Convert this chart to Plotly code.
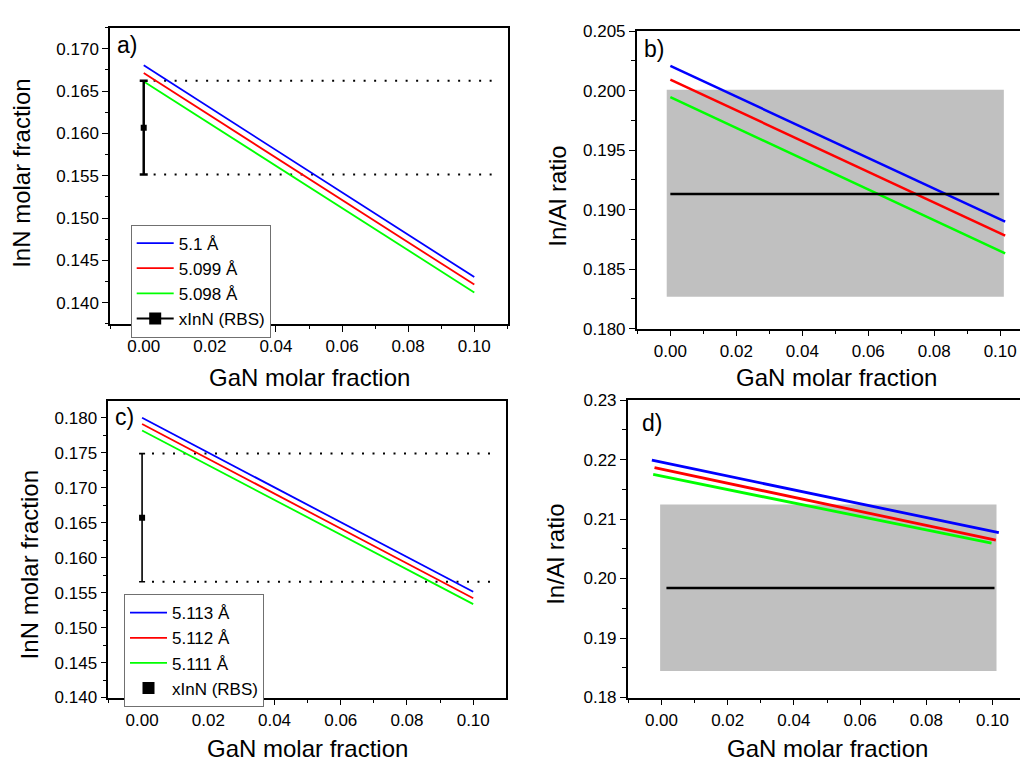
import plotly.graph_objects as go

W, H = 1020, 767
FONT = "Liberation Sans, Arial, sans-serif"

# ---------------- data ----------------
# a) InN molar fraction vs GaN molar fraction
a_x = [0.0, 0.1]
a_51 = [0.16804, 0.14304]
a_5099 = [0.16712, 0.14215]
a_5098 = [0.16612, 0.14123]
a_rbs_x = [0.0]
a_rbs = [0.16068]
a_rbs_err = [0.00554]
a_limit_x = [0.003, 0.107]

# b) In/Al ratio vs GaN molar fraction
b_x = [0.0, 0.1015]
b_51 = [0.20208, 0.18899]
b_5099 = [0.20093, 0.18782]
b_5098 = [0.19945, 0.18632]
b_ratio_x = [0.0, 0.0997]
b_ratio = 0.19138
b_ratio_line = 0.19131
b_ratio_err = 0.0087
b_band_x = [-0.0011, 0.1011]

# c) InN molar fraction vs GaN molar fraction
c_x = [0.0, 0.1]
c_5113 = [0.18000, 0.15512]
c_5112 = [0.17912, 0.15419]
c_5111 = [0.17819, 0.15335]
c_rbs_x = [0.0]
c_rbs = [0.16572]
c_rbs_err = [0.00916]
c_limit_x = [0.003, 0.1067]

# d) In/Al ratio vs GaN molar fraction
d_x_5113 = [-0.0029, 0.1019]
d_x_5112 = [-0.0021, 0.1010]
d_x_5111 = [-0.0025, 0.0997]
d_5113 = [0.21989, 0.20770]
d_5112 = [0.21863, 0.20645]
d_5111 = [0.21749, 0.20596]
d_ratio_x = [0.0015, 0.1006]
d_ratio = 0.19845
d_ratio_line = 0.19841
d_ratio_err = 0.0140
d_band_x = [-0.0004, 0.1012]

BLUE, RED, GREEN, GRAY = "#0000ff", "#ff0000", "#00ff00", "#c0c0c0"


def px_x(p):
    return p / W


def px_y(p):
    return 1 - p / H


fig = go.Figure()


def add_line(x, y, color, name, xa, ya, legend=None, width=1.8):
    fig.add_trace(go.Scatter(
        x=x, y=y, mode="lines", name=name,
        line=dict(color=color, width=width),
        xaxis=xa, yaxis=ya,
        showlegend=legend is not None, legend=legend or "legend"))


def add_band(xs, center, err, xa, ya):
    lo, hi = center - err, center + err
    fig.add_trace(go.Scatter(
        x=[xs[0], xs[1], xs[1], xs[0]], y=[lo, lo, hi, hi],
        fill="toself", fillcolor=GRAY, mode="lines",
        line=dict(width=0, color=GRAY),
        xaxis=xa, yaxis=ya, showlegend=False, hoverinfo="skip"))


def add_limits(xs, value, err, xa, ya):
    for y in (value + err, value - err):
        fig.add_trace(go.Scatter(
            x=xs, y=[y, y], mode="lines",
            line=dict(color="black", width=2, dash="2px,8.5px"),
            xaxis=xa, yaxis=ya, showlegend=False, hoverinfo="skip"))


# ---- panel a ----
add_limits(a_limit_x, a_rbs[0], a_rbs_err[0], "x", "y")
add_line(a_x, a_51, BLUE, "5.1 Å", "x", "y", "legend")
add_line(a_x, a_5099, RED, "5.099 Å", "x", "y", "legend")
add_line(a_x, a_5098, GREEN, "5.098 Å", "x", "y", "legend")
fig.add_trace(go.Scatter(
    x=a_rbs_x, y=a_rbs, mode="markers",
    marker=dict(symbol="square", size=6, color="black"),
    error_y=dict(type="data", array=a_rbs_err, color="black", thickness=2.5, width=4),
    xaxis="x", yaxis="y", showlegend=False))
fig.add_trace(go.Scatter(
    x=[None], y=[None], mode="lines+markers", name="xInN (RBS)",
    marker=dict(symbol="square", size=12, color="black"),
    line=dict(color="black", width=2),
    xaxis="x", yaxis="y", legend="legend"))

# ---- panel b ----
add_band(b_band_x, b_ratio, b_ratio_err, "x2", "y2")
add_line(b_x, b_51, BLUE, None, "x2", "y2", width=2.5)
add_line(b_x, b_5099, RED, None, "x2", "y2", width=2.5)
add_line(b_x, b_5098, GREEN, None, "x2", "y2", width=2.5)
add_line(b_ratio_x, [b_ratio_line] * 2, "black", None, "x2", "y2", width=2.5)

# ---- panel c ----
add_limits(c_limit_x, c_rbs[0], c_rbs_err[0], "x3", "y3")
add_line(c_x, c_5113, BLUE, "5.113 Å", "x3", "y3", "legend2")
add_line(c_x, c_5112, RED, "5.112 Å", "x3", "y3", "legend2")
add_line(c_x, c_5111, GREEN, "5.111 Å", "x3", "y3", "legend2")
fig.add_trace(go.Scatter(
    x=c_rbs_x, y=c_rbs, mode="markers",
    marker=dict(symbol="square", size=6, color="black"),
    error_y=dict(type="data", array=c_rbs_err, color="black", thickness=1.6, width=3),
    xaxis="x3", yaxis="y3", showlegend=False))
fig.add_trace(go.Scatter(
    x=[None], y=[None], mode="markers", name="xInN (RBS)",
    marker=dict(symbol="square", size=12, color="black"),
    xaxis="x3", yaxis="y3", legend="legend2"))

# ---- panel d ----
add_band(d_band_x, d_ratio, d_ratio_err, "x4", "y4")
add_line(d_x_5113, d_5113, BLUE, None, "x4", "y4", width=2.8)
add_line(d_x_5112, d_5112, RED, None, "x4", "y4", width=2.8)
add_line(d_x_5111, d_5111, GREEN, None, "x4", "y4", width=2.8)
add_line(d_ratio_x, [d_ratio_line] * 2, "black", None, "x4", "y4", width=2.5)

# ---------------- axes ----------------
tickfont = dict(family=FONT, size=17, color="black")


def xaxis_cfg(domain_px, rng, anchor):
    return dict(
        domain=[px_x(domain_px[0]), min(1.0, px_x(domain_px[1]))],
        range=rng, anchor=anchor,
        tick0=0, dtick=0.02, tickformat=".2f",
        ticks="outside", ticklen=6, tickwidth=1.3, tickcolor="black",
        minor=dict(dtick=0.01, tick0=0, ticks="outside", ticklen=3.5,
                   tickwidth=1.2, tickcolor="black", showgrid=False),
        showline=True, linecolor="black", linewidth=1.5, mirror=True,
        showgrid=False, zeroline=False, tickfont=tickfont)


def yaxis_cfg(domain_px, rng, anchor, dtick, fmt, mirror):
    return dict(
        domain=[px_y(domain_px[1]), px_y(domain_px[0])],
        range=rng, anchor=anchor,
        dtick=dtick, tick0=0, tickformat=fmt,
        ticks="outside", ticklen=6, tickwidth=1.3, tickcolor="black",
        minor=dict(dtick=dtick / 2, tick0=0, ticks="outside", ticklen=3.5,
                   tickwidth=1.2, tickcolor="black", showgrid=False),
        showline=True, linecolor="black", linewidth=1.5, mirror=mirror,
        showgrid=False, zeroline=False, tickfont=tickfont)


fig.update_layout(
    xaxis=xaxis_cfg((110, 508), [-0.0102, 0.1102], "y"),
    yaxis=yaxis_cfg((19, 323), [0.1375, 0.1725], "x", 0.005, ".3f", True),
    xaxis2=xaxis_cfg((636.7, 1020), [-0.0102, 0.1060], "y2"),
    yaxis2=yaxis_cfg((22.7, 327.7), [0.180, 0.205], "x2", 0.005, ".3f", False),
    xaxis3=xaxis_cfg((108.3, 506), [-0.0102, 0.1099], "y3"),
    yaxis3=yaxis_cfg((402, 706), [0.140, 0.1824], "x3", 0.005, ".3f", True),
    xaxis4=xaxis_cfg((627.7, 1020), [-0.0102, 0.1083], "y4"),
    yaxis4=yaxis_cfg((401, 706), [0.18, 0.23], "x4", 0.01, ".2f", False),
)

legend_common = dict(
    xanchor="left", yanchor="top", bgcolor="white",
    bordercolor="#707070", borderwidth=1,
    font=dict(family=FONT, size=17, color="black"),
    tracegroupgap=0, itemwidth=37)
fig.update_layout(
    legend=dict(x=px_x(130.7), y=px_y(221), **legend_common),
    legend2=dict(x=px_x(124), y=px_y(600), **legend_common),
)

# ---------------- titles and panel labels ----------------
annots = []


def text(x, y, s, size=24, angle=0, xanchor="center"):
    annots.append(dict(
        x=px_x(x), y=px_y(y), xref="paper", yref="paper", text=s,
        showarrow=False, textangle=angle, xanchor=xanchor, yanchor="middle",
        font=dict(family=FONT, size=size, color="black")))


text(309, 378, "GaN molar fraction")
text(836, 378, "GaN molar fraction")
text(307, 758, "GaN molar fraction")
text(827, 758, "GaN molar fraction")
text(22, 169, "InN molar fraction", angle=-90)
text(557.5, 192, "In/Al ratio", angle=-90)
text(29.5, 570, "InN molar fraction", angle=-90)
text(554.7, 559, "In/Al ratio", angle=-90)
text(115, 37, "a)", size=23, xanchor="left")
text(642, 41, "b)", size=23, xanchor="left")
text(113, 418, "c)", size=23, xanchor="left")
text(640, 425, "d)", size=23, xanchor="left")

fig.update_layout(
    annotations=annots,
    width=W, height=H,
    margin=dict(l=0, r=0, t=0, b=0),
    paper_bgcolor="white", plot_bgcolor="white",
    font=dict(family=FONT, color="black"),
)

fig.write_html("out.html", config={"displayModeBar": False})
